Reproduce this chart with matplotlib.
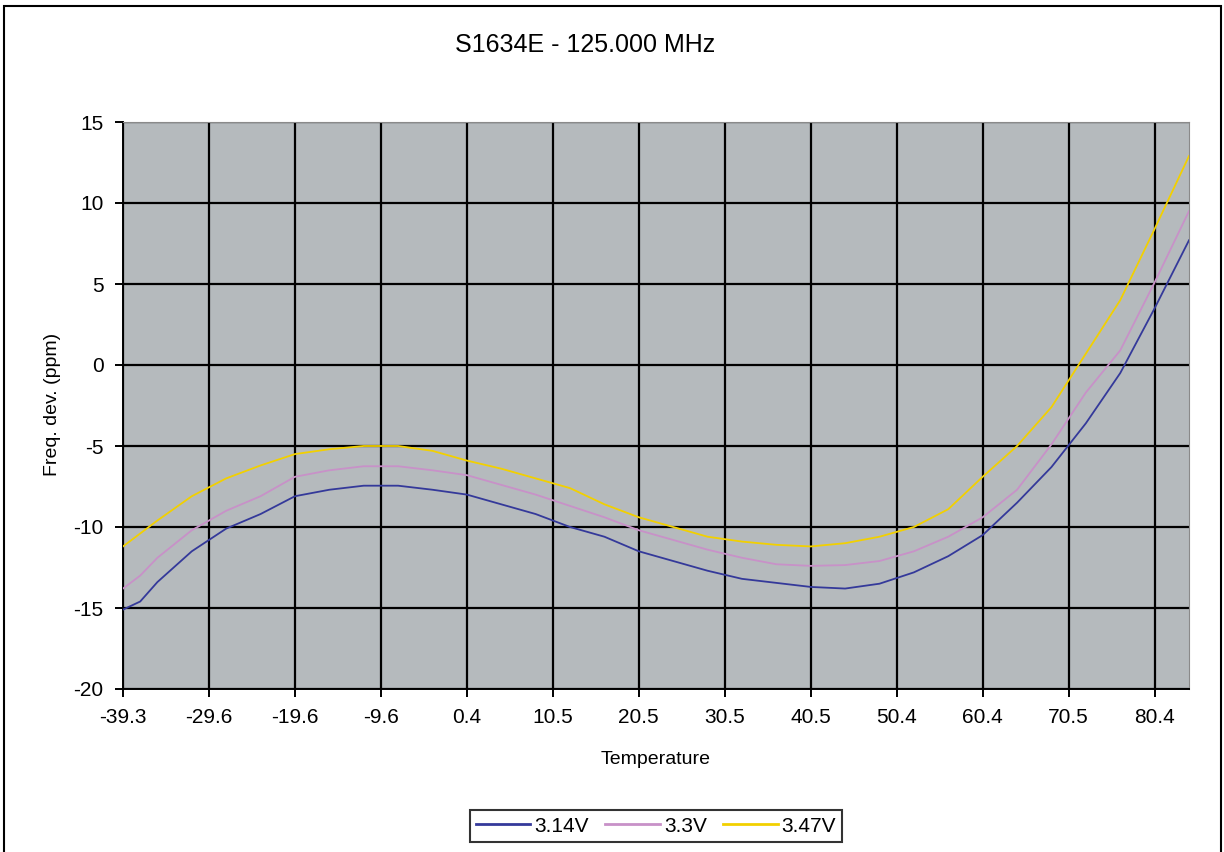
import numpy as np
import matplotlib
matplotlib.use('Agg')
import matplotlib.pyplot as plt
from matplotlib.patches import Rectangle

plt.rcParams['font.family'] = ['Liberation Sans', 'DejaVu Sans']
plt.rcParams['axes.unicode_minus'] = False

# Posicao da amostra (categoria) no eixo x
pos = [0, 2, 4, 8, 12, 16, 20, 24, 28, 32, 36, 40, 44, 48, 52, 56, 60, 64,
       68, 72, 76, 80, 84, 88, 92, 96, 100, 104, 108, 112, 116, 120, 124]

# Rotulos do eixo x (temperatura), um a cada 10 categorias
temp_labels = ['-39.3', '-29.6', '-19.6', '-9.6', '0.4', '10.5', '20.5',
               '30.5', '40.5', '50.4', '60.4', '70.5', '80.4']
temp_pos = [0, 10, 20, 30, 40, 50, 60, 70, 80, 90, 100, 110, 120]

# Desvio de frequencia (ppm)
v314 = [-15.1, -14.6, -13.4, -11.5, -10.1, -9.2, -8.1, -7.7, -7.45, -7.45,
        -7.7, -8.0, -8.6, -9.2, -10.0, -10.6, -11.5, -12.1, -12.7, -13.2,
        -13.45, -13.7, -13.8, -13.5, -12.8, -11.8, -10.5, -8.5, -6.3, -3.6,
        -0.5, 3.5, 7.7]
v330 = [-13.8, -13.0, -11.9, -10.2, -9.0, -8.1, -6.9, -6.5, -6.25, -6.25,
        -6.5, -6.8, -7.4, -8.0, -8.7, -9.4, -10.2, -10.8, -11.4, -11.9,
        -12.3, -12.4, -12.35, -12.1, -11.5, -10.6, -9.4, -7.7, -4.9, -1.7,
        0.9, 5.1, 9.5]
v347 = [-11.2, -10.4, -9.6, -8.1, -7.0, -6.2, -5.5, -5.2, -5.0, -5.0,
        -5.3, -5.9, -6.4, -7.0, -7.6, -8.6, -9.4, -10.0, -10.6, -10.9,
        -11.1, -11.2, -11.0, -10.6, -10.0, -8.9, -6.9, -5.0, -2.6, 0.7,
        4.0, 8.4, 12.9]

fig = plt.figure(figsize=(12.24, 8.52), dpi=100)
ax = fig.add_axes([123/1224, 1 - 689/852, (1189 - 123)/1224, (689 - 122)/852])
ax.set_facecolor('#b5babd')

ax.plot(pos, v314, color='#34399a', lw=1.3, label='3.14V', zorder=3)
ax.plot(pos, v330, color='#c891c8', lw=1.3, label='3.3V', zorder=3)
ax.plot(pos, v347, color='#f2d000', lw=1.3, label='3.47V', zorder=3)

ax.set_xlim(0, 124)
ax.set_ylim(-20, 15)
ax.set_xticks(temp_pos)
ax.set_xticklabels(temp_labels)
ax.set_yticks(np.arange(-20, 16, 5))
ax.grid(True, color='black', lw=1.6)
ax.set_axisbelow(True)
ax.tick_params(labelsize=15, length=6, width=1.4, color='black', pad=8)

for s in ['top', 'right']:
    ax.spines[s].set_color('#8a8a8a')
for s in ['left', 'bottom']:
    ax.spines[s].set_color('black')
    ax.spines[s].set_linewidth(1.4)

fig.text(0.478, 0.947, 'S1634E - 125.000 MHz', fontsize=18, ha='center', va='center')
fig.text(0.536, 0.108, 'Temperature', fontsize=14, ha='center', va='center')
fig.text(0.0425, 0.525, 'Freq. dev. (ppm)', fontsize=14, ha='center', va='center', rotation=90)

leg = fig.legend(loc='center', bbox_to_anchor=(0.536, 0.0305), ncol=3, fontsize=15,
                 frameon=True, fancybox=False, handlelength=2.6, handletextpad=0.2,
                 columnspacing=0.8, borderpad=0.3, borderaxespad=0)
leg.get_frame().set_edgecolor('black')
leg.get_frame().set_linewidth(1.5)
for l in leg.get_lines():
    l.set_linewidth(2)

# Moldura externa
fig.patches.append(Rectangle((4/1224, -0.01), (1221 - 4)/1224, 1 - 6/852 + 0.01,
                             transform=fig.transFigure, fill=False, edgecolor='black', lw=1.5))

plt.savefig('out.png', dpi=100)
